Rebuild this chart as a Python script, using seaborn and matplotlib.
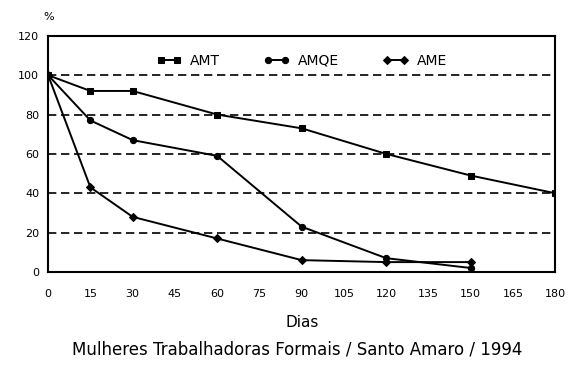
import pandas as pd
import matplotlib.pyplot as plt
import seaborn as sns

# dias e percentuais
dias = [0, 15, 30, 60, 90, 120, 150, 180]
amt = [100, 92, 92, 80, 73, 60, 49, 40]
dias_curto = [0, 15, 30, 60, 90, 120, 150]
amqe = [100, 77, 67, 59, 23, 7, 2]
ame = [100, 43, 28, 17, 6, 5, 5]

df = pd.concat([
    pd.DataFrame({'Dias': dias, 'pct': amt, 'serie': 'AMT'}),
    pd.DataFrame({'Dias': dias_curto, 'pct': amqe, 'serie': 'AMQE'}),
    pd.DataFrame({'Dias': dias_curto, 'pct': ame, 'serie': 'AME'}),
])

sns.set_style('white')
plt.rcParams['font.family'] = ['DejaVu Sans']
plt.rcParams['text.color'] = 'black'

fig = plt.figure(figsize=(5.73, 3.66), dpi=100)
ax = fig.add_axes([0.084, 0.257, 0.885, 0.645])

sns.lineplot(data=df, x='Dias', y='pct', hue='serie', style='serie',
             palette=['black', 'black', 'black'],
             markers={'AMT': 's', 'AMQE': 'o', 'AME': 'D'},
             dashes=False, markersize=4.5, linewidth=1.4,
             markeredgecolor='black', ax=ax)

for y in [20, 40, 60, 80, 100]:
    ax.axhline(y, color='black', linestyle=(0, (5, 2.8)), linewidth=1.2, zorder=0)

ax.set_xlim(0, 180)
ax.set_ylim(0, 120)
ax.set_xticks(range(0, 181, 15))
ax.set_yticks(range(0, 121, 20))
ax.tick_params(direction='inout', length=7, width=1.2, labelsize=8, colors='black')
ax.tick_params(axis='x', pad=9)
ax.tick_params(axis='y', pad=3)
for s in ax.spines.values():
    s.set_color('black')
    s.set_linewidth(1.5)

ax.set_xlabel('')
ax.set_ylabel('')
fig.text(0.085, 0.954, '%', fontsize=8, ha='center', va='center')
fig.text(0.527, 0.12, 'Dias', fontsize=11, ha='center', va='center')
fig.text(0.518, 0.044, 'Mulheres Trabalhadoras Formais / Santo Amaro / 1994',
         ha='center', va='center', fontsize=12)

ax.legend(loc='center', bbox_to_anchor=(0.5, 0.894), ncol=3, frameon=False,
          fontsize=10, handlelength=1.8, handletextpad=0.6, columnspacing=3.2,
          numpoints=2, title=None)

fig.savefig('out.png', dpi=100)
